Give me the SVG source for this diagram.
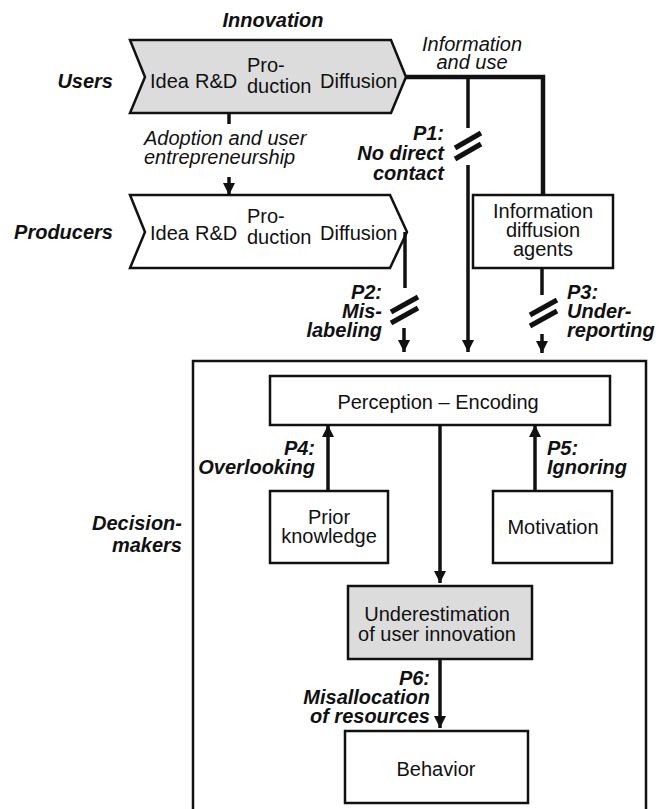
<svg xmlns="http://www.w3.org/2000/svg" width="670" height="809" viewBox="0 0 670 809">
<defs>
<marker id="ah" viewBox="0 0 12 12" refX="12" refY="6" markerWidth="12" markerHeight="12" markerUnits="userSpaceOnUse" orient="auto">
<path d="M0,0 L12,6 L0,12 Z" fill="#111"/>
</marker>
</defs>
<style>
text{font-family:"Liberation Sans",Arial,sans-serif;fill:#111;font-size:20px}
.bi{font-weight:bold;font-style:italic}
.it{font-style:italic}
.m{text-anchor:middle}
.e{text-anchor:end}
.box{fill:#fff;stroke:#111;stroke-width:2.5}
.gray{fill:#dcdcdc}
.c{stroke:#111;stroke-width:3.5;fill:none}
.sl{stroke:#111;stroke-width:5;fill:none}
</style>
<rect width="670" height="809" fill="#fff"/>

<g id="labels">
<text class="bi m" x="273" y="27">Innovation</text>
<text class="bi e" x="113" y="88">Users</text>
<text class="bi e" x="113" y="239">Producers</text>
<text class="bi e" x="182" y="530">Decision-</text>
<text class="bi e" x="182" y="552">makers</text>
</g>

<g id="decision-makers">
<rect class="box" x="193" y="361" width="453" height="470"/>
</g>

<g id="users">
<path class="box gray" d="M130,40 L391,40 L406,77 L391,113 L130,113 L145,77 Z"/>
<text x="150" y="88">Idea</text>
<text x="195" y="88">R&amp;D</text>
<text x="247" y="72">Pro-</text>
<text x="247" y="93">duction</text>
<text x="320" y="88">Diffusion</text>
</g>

<g id="producers">
<path class="box" d="M130,195 L390,195 L407,232 L390,268 L130,268 L145,232 Z"/>
<text x="150" y="240">Idea</text>
<text x="195" y="240">R&amp;D</text>
<text x="247" y="223">Pro-</text>
<text x="247" y="244">duction</text>
<text x="320" y="240">Diffusion</text>
</g>

<g id="info-agents">
<rect class="box" x="473" y="195" width="140" height="73"/>
<text class="m" x="543" y="218">Information</text>
<text class="m" x="543" y="237">diffusion</text>
<text class="m" x="543" y="256">agents</text>
</g>

<g id="perception">
<rect class="box" x="270" y="376" width="340" height="49"/>
<text class="m" x="438" y="409">Perception – Encoding</text>
</g>

<g id="prior-knowledge">
<rect class="box" x="270" y="491" width="118" height="72"/>
<text class="m" x="329" y="524">Prior</text>
<text class="m" x="329" y="543">knowledge</text>
</g>

<g id="motivation">
<rect class="box" x="493" y="491" width="119" height="72"/>
<text class="m" x="553" y="534">Motivation</text>
</g>

<g id="underestimation">
<rect class="box gray" x="348" y="586" width="184" height="73"/>
<text class="m" x="437" y="621">Underestimation</text>
<text class="m" x="437" y="641">of user innovation</text>
</g>

<g id="behavior">
<rect class="box" x="345" y="731" width="183" height="72"/>
<text class="m" x="436" y="776">Behavior</text>
</g>

<g id="connectors">
<line class="c" x1="229" y1="113" x2="229" y2="124"/>
<line class="c" x1="229" y1="177" x2="229" y2="195" marker-end="url(#ah)"/>
<path d="M406,77 L543,77 L543,195" stroke="#111" stroke-width="4.5" fill="none"/>
<line class="c" x1="468" y1="77" x2="468" y2="128"/>
<line class="sl" x1="455" y1="148" x2="481" y2="133"/>
<line class="sl" x1="455" y1="159" x2="481" y2="144"/>
<line class="c" x1="468" y1="165" x2="468" y2="352" marker-end="url(#ah)"/>
<line class="c" x1="405" y1="232" x2="405" y2="288"/>
<line class="sl" x1="391" y1="312" x2="418" y2="297"/>
<line class="sl" x1="391" y1="323" x2="418" y2="308"/>
<line class="c" x1="404" y1="328" x2="404" y2="352" marker-end="url(#ah)"/>
<line class="c" x1="542" y1="268" x2="542" y2="295"/>
<line class="sl" x1="530" y1="315" x2="557" y2="300"/>
<line class="sl" x1="530" y1="326" x2="557" y2="311"/>
<line class="c" x1="542" y1="334" x2="542" y2="353" marker-end="url(#ah)"/>
<line class="c" x1="440" y1="425" x2="440" y2="583" marker-end="url(#ah)"/>
<line class="c" x1="328" y1="491" x2="328" y2="425" marker-end="url(#ah)"/>
<line class="c" x1="535" y1="491" x2="535" y2="425" marker-end="url(#ah)"/>
<line class="c" x1="440" y1="659" x2="440" y2="728" marker-end="url(#ah)"/>
</g>

<g id="connector-labels">
<text class="it" x="144" y="145">Adoption and user</text>
<text class="it" x="144" y="164">entrepreneurship</text>
<text class="it m" x="472" y="51">Information</text>
<text class="it m" x="472" y="69">and use</text>
<text class="bi e" x="444" y="140">P1:</text>
<text class="bi e" x="444" y="160">No direct</text>
<text class="bi e" x="444" y="180">contact</text>
<text class="bi e" x="382" y="299">P2:</text>
<text class="bi e" x="382" y="318">Mis-</text>
<text class="bi e" x="382" y="337">labeling</text>
<text class="bi" x="567" y="299">P3:</text>
<text class="bi" x="567" y="318">Under-</text>
<text class="bi" x="567" y="337">reporting</text>
<text class="bi e" x="315" y="455">P4:</text>
<text class="bi e" x="315" y="474">Overlooking</text>
<text class="bi" x="547" y="455">P5:</text>
<text class="bi" x="547" y="474">Ignoring</text>
<text class="bi e" x="430" y="685">P6:</text>
<text class="bi e" x="430" y="704">Misallocation</text>
<text class="bi e" x="430" y="723">of resources</text>
</g>
</svg>
